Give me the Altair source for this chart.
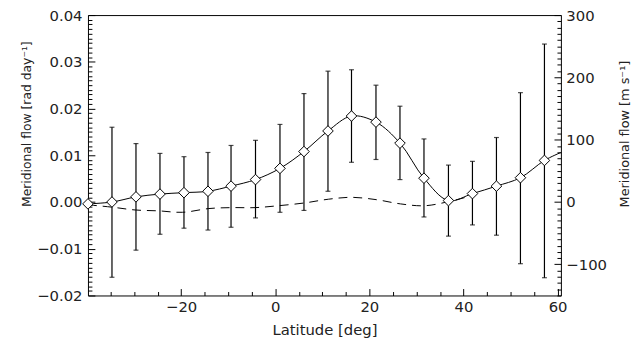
"""Meridional flow versus latitude (Altair), axes carried by the data layers."""
import pandas as pd
import altair as alt

lat = [-39.8, -34.7, -29.6, -24.5, -19.4, -14.3, -9.4, -4.2, 1.0, 6.1,
       11.2, 16.2, 21.4, 26.5, 31.6, 36.8, 41.9, 47.0, 52.1, 57.2]
flow = [-0.0004, 0.0000, 0.0011, 0.0017, 0.0020, 0.0023, 0.0034, 0.0048, 0.0072, 0.0108,
        0.0152, 0.0184, 0.0171, 0.0126, 0.0051, 0.0003, 0.0018, 0.0034, 0.0052, 0.0089]

err_lat = lat[1:]
err_hi = [0.0160, 0.0125, 0.0104, 0.0097, 0.0106, 0.0121, 0.0132, 0.0166, 0.0232,
          0.0280, 0.0283, 0.0250, 0.0205, 0.0135, 0.0079, 0.0087, 0.0138, 0.0234, 0.0338]
err_lo = [-0.0161, -0.0103, -0.0069, -0.0056, -0.0060, -0.0054, -0.0034, -0.0022, -0.0018,
          0.0023, 0.0085, 0.0091, 0.0048, -0.0032, -0.0073, -0.0049, -0.0071, -0.0132, -0.0162]

curve_lat = lat + [60.7]
curve_flow = flow + [0.0106]

dash_lat = [-39.8, -34.7, -29.8, -24.7, -19.7, -14.1, -9.2, -4.3, 0.6, 6.2,
            11.3, 16.2, 21.5, 26.6, 31.7, 36.9, 41.9]
dash_flow = [-0.0006, -0.0011, -0.0017, -0.0019, -0.0022, -0.0014, -0.0012, -0.0012, -0.0008, -0.0002,
             0.0006, 0.0010, 0.0005, -0.0004, -0.0008, 0.0001, 0.0014]

x_major = [-20, 0, 20, 40, 60]
x_minor = [-35, -30, -25, -15, -10, -5, 5, 10, 15, 25, 30, 35, 45, 50, 55]
y_major = [-0.02, -0.01, 0.0, 0.01, 0.02, 0.03, 0.04]
y_minor = [round(-0.02 + 0.001 * i, 3) for i in range(61) if i % 10 != 0]
r_major = [-100, 0, 100, 200, 300]
r_minor = [v for v in range(-150, 301, 10) if v % 100 != 0]

XDOM = [-39.8, 60.7]
YDOM = [-0.02, 0.04]
MS_PER_RAD_DAY = 7500.0

FONT = "DejaVu Sans"
TXT = "#222222"
INK = "black"

pts = pd.DataFrame({"lat": lat, "flow": flow})
errs = pd.DataFrame({"lat": err_lat, "hi": err_hi, "lo": err_lo})
curve = pd.DataFrame({"lat": curve_lat, "flow": curve_flow})
dash = pd.DataFrame({"lat": dash_lat, "flow": dash_flow})

# right-axis (m/s) positions expressed on the rad/day scale
r_major_pos = [v / MS_PER_RAD_DAY for v in r_major]
r_minor_pos = [v / MS_PER_RAD_DAY for v in r_minor]


def xs():
    return alt.Scale(domain=XDOM, nice=False, zero=False)


def ys():
    return alt.Scale(domain=YDOM, nice=False, zero=False)


def tick_axis(orient, values, size):
    return alt.Axis(orient=orient, values=values, labels=False, ticks=True, tickSize=size,
                    tickColor=INK, domain=False, grid=False, offset=-size, title=None)


x_labels = alt.Axis(
    orient="bottom", values=x_major, format="d", ticks=False, domain=False, grid=False,
    labelFont=FONT, labelFontSize=15, labelColor=TXT, labelPadding=4,
    labelFlush=False, labelOverlap=False,
    title="Latitude [deg]", titleFont=FONT, titleFontSize=15, titleFontWeight="normal",
    titleColor=TXT, titleY=35, titleBaseline="middle")
y_labels = alt.Axis(
    orient="left", values=y_major, format=".2f", ticks=False, domain=False, grid=False,
    labelFont=FONT, labelFontSize=15, labelColor=TXT, labelPadding=6,
    labelFlush=False, labelOverlap=False, labelBaseline="middle",
    title="Meridional flow [rad day\u207b\u00b9]", titleFont=FONT, titleFontSize=12.5,
    titleFontWeight="normal", titleColor=TXT, titleAngle=270, titleX=-62, titleY=110,
    titleAlign="center", titleBaseline="middle")
r_labels = alt.Axis(
    orient="right", values=r_major_pos, labelExpr="format(datum.value * 7500, 'd')",
    ticks=False, domain=False, grid=False,
    labelFont=FONT, labelFontSize=15, labelColor=TXT, labelPadding=5,
    labelFlush=False, labelOverlap=False, labelBaseline="middle",
    title="Meridional flow [m s\u207b\u00b9]", titleFont=FONT, titleFontSize=13,
    titleFontWeight="normal", titleColor=TXT, titleAngle=270, titleX=64, titleY=120,
    titleAlign="center", titleBaseline="middle")

# solid curve: carries left and bottom labels
solid = alt.Chart(curve).mark_line(
    color=INK, strokeWidth=1, interpolate="catmull-rom"
).encode(
    x=alt.X("lat:Q", scale=xs(), axis=x_labels),
    y=alt.Y("flow:Q", scale=ys(), axis=y_labels),
)
# dashed curve: carries minor ticks on left and bottom
dashed = alt.Chart(dash).mark_line(
    color=INK, strokeWidth=1, strokeDash=[9, 6], interpolate="catmull-rom"
).encode(
    x=alt.X("lat:Q", scale=xs(), axis=tick_axis("bottom", x_minor, 4)),
    y=alt.Y("flow:Q", scale=ys(), axis=tick_axis("left", y_minor, 4)),
)
# error bars: carry the right-hand labels
bars = alt.Chart(errs).mark_rule(color=INK, strokeWidth=1.2).encode(
    x=alt.X("lat:Q", scale=xs(), axis=None),
    y=alt.Y("lo:Q", scale=ys(), axis=r_labels),
    y2="hi:Q",
)
cap_hi = alt.Chart(errs).mark_tick(color=INK, orient="horizontal", size=5, thickness=1.2).encode(
    x=alt.X("lat:Q", scale=xs(), axis=None),
    y=alt.Y("hi:Q", scale=ys(), axis=tick_axis("right", r_major_pos, 7)),
)
cap_lo = alt.Chart(errs).mark_tick(color=INK, orient="horizontal", size=5, thickness=1.2).encode(
    x=alt.X("lat:Q", scale=xs(), axis=None),
    y=alt.Y("lo:Q", scale=ys(), axis=tick_axis("right", r_minor_pos, 4)),
)
# diamonds: carry major ticks on left and bottom
diamonds = alt.Chart(pts).mark_point(
    shape="diamond", size=115, filled=True, fill="white", stroke=INK, strokeWidth=1, opacity=1
).encode(
    x=alt.X("lat:Q", scale=xs(), axis=tick_axis("bottom", x_major, 7)),
    y=alt.Y("flow:Q", scale=ys(), axis=tick_axis("left", y_major, 7)),
)

chart = alt.layer(
    solid, dashed, bars, cap_hi, cap_lo, diamonds,
).resolve_scale(
    x="independent", y="independent"
).properties(
    width=479, height=284,
    autosize=alt.AutoSizeParams(type="none"),
    padding={"left": 81, "top": 5, "right": 72, "bottom": 49},
    background="white",
).configure_view(
    stroke=INK, strokeWidth=1
)

chart.save("out.html", embed_options={"renderer": "svg", "actions": False})
